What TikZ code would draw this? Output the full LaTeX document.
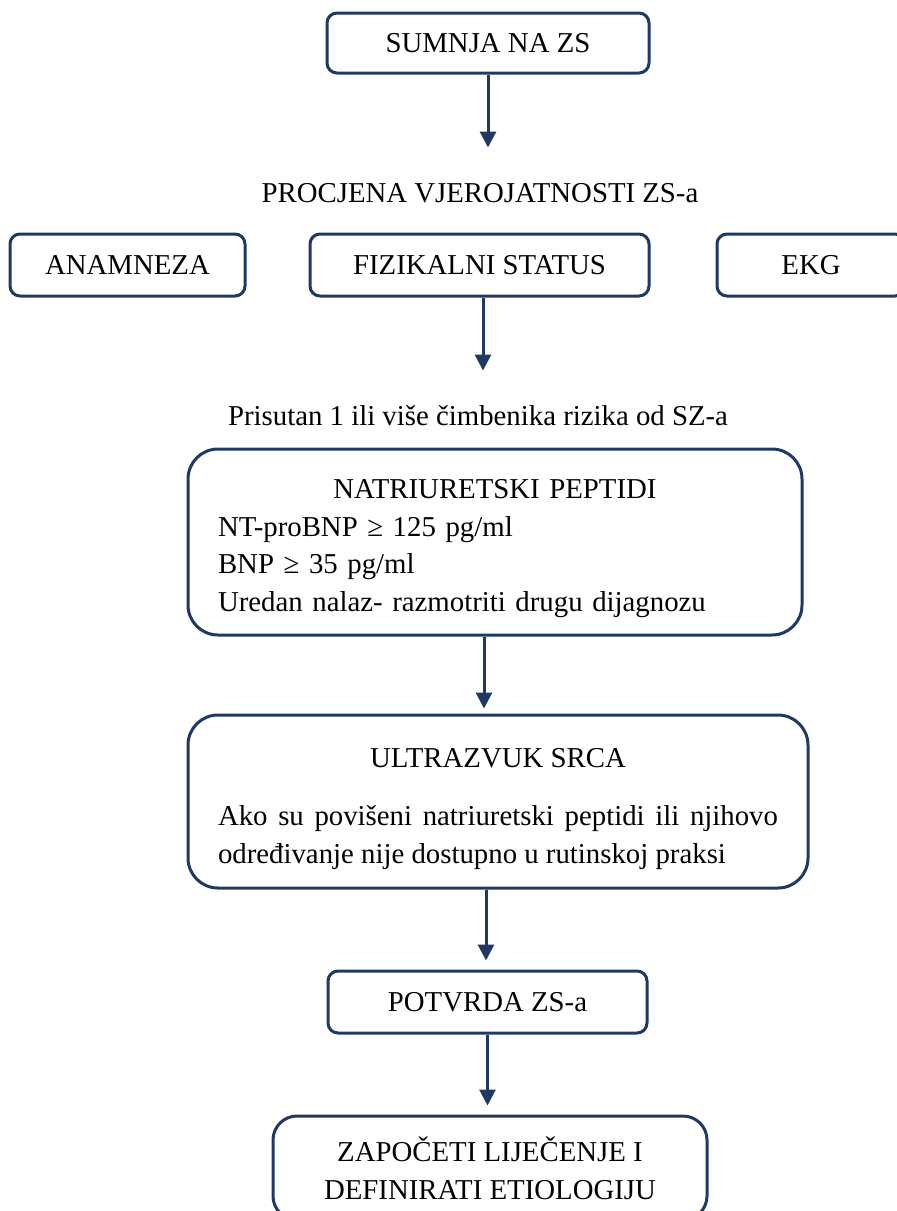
\documentclass[tikz,border=0pt]{standalone}
\usepackage{fontspec}
\setmainfont{Liberation Serif}
\usetikzlibrary{arrows.meta}
\definecolor{navy}{RGB}{31,56,100}

\begin{document}
\begin{tikzpicture}[x=0.5pt, y=-0.5pt,
    every node/.style={font=\fontsize{14.4}{18.8}\selectfont},
    box/.style={draw=navy, line width=1.5pt, rounded corners=5pt, inner sep=0pt},
    bigbox/.style={draw=navy, line width=1.5pt, rounded corners=15pt, inner ysep=0pt},
    label/.style={inner sep=0pt, anchor=base},
    arr/.style={draw=navy, line width=1.5pt, -{Triangle[width=8pt,length=8pt]}}]
    \useasboundingbox (0,0) rectangle (897,1211);
    \clip (0,0) rectangle (897,1211);

    \node[box, minimum width=161pt, minimum height=30pt] (sumnja) at (488,43) {SUMNJA NA ZS};
    \node[label] (procjena) at (480,202) {PROCJENA VJEROJATNOSTI ZS-a};

    \node[box, minimum width=117.5pt, minimum height=31pt] (anamneza) at (127.5,265) {ANAMNEZA};
    \node[box, minimum width=169.5pt, minimum height=31pt] (fizikalni) at (479.5,265) {FIZIKALNI STATUS};
    \node[box, minimum width=94pt, minimum height=31pt] (ekg) at (811,265) {EKG};

    \node[label] (prisutan) at (478,425) {Prisutan 1 ili više čimbenika rizika od SZ-a};

    \node[bigbox, text width=277pt, inner xsep=15pt, minimum height=93pt, align=left] (peptidi) at (495,542)
      {{\centering\rule{0pt}{16pt}NATRIURETSKI PEPTIDI\par}
       NT-proBNP ≥ 125 pg/ml\\
       BNP ≥ 35 pg/ml\\
       Uredan nalaz- razmotriti drugu dijagnozu};

    \node[bigbox, text width=280pt, inner xsep=15pt, minimum height=86.5pt, align=justify] (ultrazvuk) at (498,801.5)
      {{\centering\rule{0pt}{17pt}ULTRAZVUK SRCA\par}
       \vspace{10pt}
       Ako su povišeni natriuretski peptidi ili njihovo\linebreak
       određivanje nije dostupno u rutinskoj praksi};

    \node[box, minimum width=159.5pt, minimum height=31pt] (potvrda) at (487.5,1002) {POTVRDA ZS-a};
    \node[bigbox, rounded corners=12pt, minimum width=217pt, minimum height=52pt, align=center] (zapoceti) at (490,1168)
      {ZAPOČETI LIJEČENJE I\\DEFINIRATI ETIOLOGIJU};

    \draw[arr, shorten >=17.5pt] (sumnja) -- (procjena.north -| sumnja.south);
    \draw[arr, shorten >=17pt] (fizikalni.south -| 483,0) -- (prisutan.north -| 483,0);
    \draw[arr, shorten >=2.5pt] (peptidi.south -| 484,0) -- (ultrazvuk.north -| 484,0);
    \draw[arr, shorten >=4.5pt] (ultrazvuk.south -| 486,0) -- (potvrda.north -| 486,0);
    \draw[arr, shorten >=4.5pt] (potvrda) -- (zapoceti.north -| potvrda.south);
\end{tikzpicture}
\end{document}
